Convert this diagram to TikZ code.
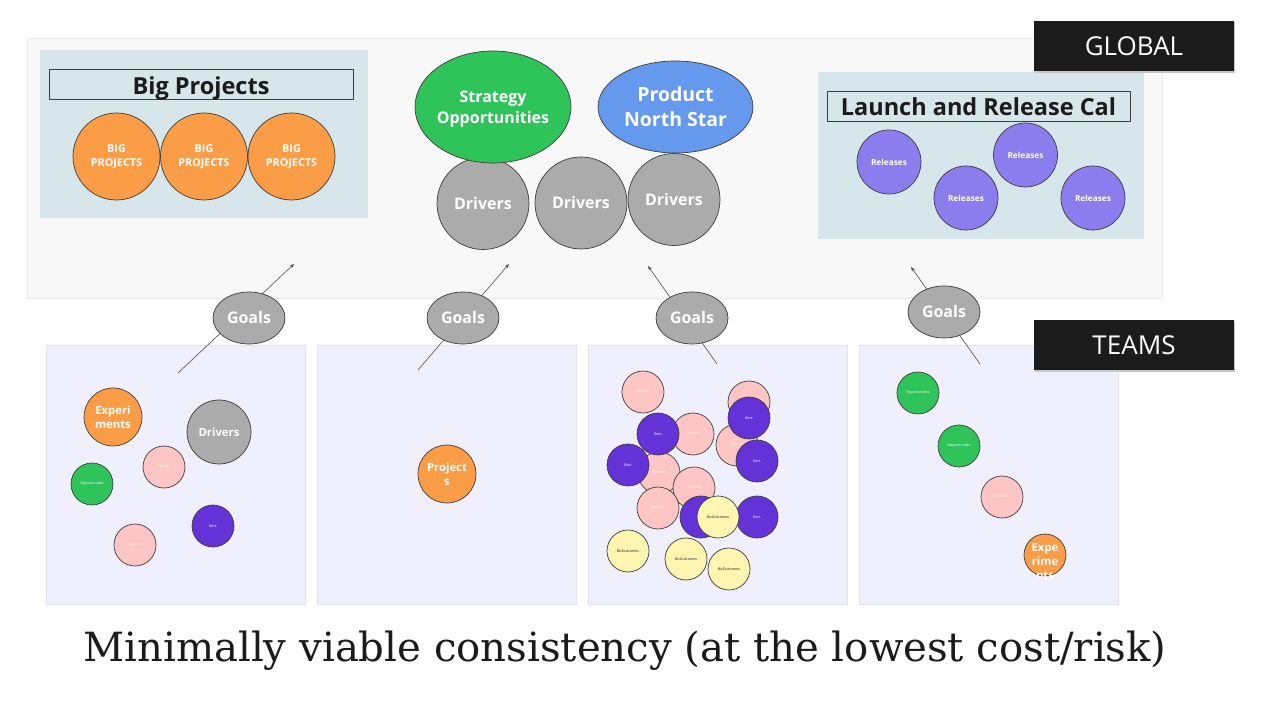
\documentclass[tikz,border=0pt]{standalone}
\usepackage{graphicx}
\usepackage{fontspec}
\setmainfont{Open Sans}
\newfontfamily\titlefont{DejaVu Serif}
\usetikzlibrary{arrows.meta,shapes.geometric}
\definecolor{globalbg}{HTML}{F8F8F8}
\definecolor{globaledge}{HTML}{EBEBEB}
\definecolor{panelbg}{HTML}{D6E6EA}
\definecolor{teambg}{HTML}{F0EFFD}
\definecolor{teamedge}{HTML}{E2E0F3}
\definecolor{orangec}{HTML}{FB9D47}
\definecolor{greenc}{HTML}{2EC45A}
\definecolor{bluec}{HTML}{6499EE}
\definecolor{grayc}{HTML}{ABABAB}
\definecolor{relc}{HTML}{8B7DEE}
\definecolor{betc}{HTML}{6532D8}
\definecolor{pinkc}{HTML}{FDC5C3}
\definecolor{yelc}{HTML}{FEF5B1}
\definecolor{inkc}{HTML}{1B1B1B}
\definecolor{arrc}{HTML}{505050}
\tikzset{
  bub/.style={circle,draw=inkc!85,line width=0.7pt,inner sep=0pt},
  oval/.style={ellipse,draw=inkc!85,line width=0.7pt,inner sep=0pt},
  conn/.style={draw=arrc,line width=0.6pt,-{Stealth[length=4.5pt,width=3.5pt]}},
  tinyw/.style={font=\fontsize{3.6}{4.5}\selectfont,text=white},
  tinyd/.style={font=\fontsize{3.6}{4.5}\selectfont,text=inkc},
  midw/.style={font=\bfseries\fontsize{11.3}{14}\selectfont,text=white},
  bigw/.style={font=\bfseries\fontsize{16}{20}\selectfont,text=white},
  relw/.style={font=\bfseries\fontsize{8.3}{10}\selectfont,text=white},
  bpw/.style={font=\bfseries\fontsize{10.8}{13.5}\selectfont,text=white},
  headtxt/.style={font=\bfseries\fontsize{23.5}{26}\selectfont,text=inkc},
  tagbox/.style={fill=inkc,minimum width=200pt,minimum height=50pt,inner sep=0pt,text=white,font=\fontsize{26}{30}\selectfont},
  teampanel/.style={fill=teambg,draw=teamedge,line width=0.6pt}
}
\newcommand\mybub[7]{%
  \node[bub,fill=#5,minimum size=#4pt] (#1) at (#2,#3) {};
  \node[align=center,#6] at (#1.center) {#7};}
\begin{document}
\begin{tikzpicture}[x=1pt,y=-1pt]
\useasboundingbox (0,0) rectangle (1262,708);
\fill[white] (0,0) rectangle (1262,708);
% global area
\draw[fill=globalbg,draw=globaledge,line width=0.8pt] (27,38) rectangle (1162,298);
% big projects panel
\fill[panelbg] (40,50) rectangle (368,218);
\node[draw=inkc!85,line width=0.7pt,minimum width=304pt,minimum height=30pt,inner sep=0pt] (bphead) at (201,84) {};
\node[headtxt,anchor=base] at ([yshift=-10.5pt]bphead.center) {Big Projects};
\mybub{bp1}{116.5}{156.5}{87}{orangec}{bpw}{BIG\\PROJECTS}
\mybub{bp2}{204}{156.5}{87}{orangec}{bpw}{BIG\\PROJECTS}
\mybub{bp3}{291.5}{156.5}{87}{orangec}{bpw}{BIG\\PROJECTS}
% launch panel
\fill[panelbg] (818,72) rectangle (1144,239);
\node[draw=inkc!85,line width=0.7pt,minimum width=303pt,minimum height=30pt,inner sep=0pt] (lrhead) at (978.5,106) {};
\node[headtxt,anchor=base] at ([yshift=-10pt]lrhead.center) {Launch and Release Cal};
\mybub{r1}{889}{162}{64}{relc}{relw}{Releases}
\mybub{r2}{966}{198}{64}{relc}{relw}{Releases}
\mybub{r3}{1025.5}{155}{64}{relc}{relw}{Releases}
\mybub{r4}{1093}{198}{64}{relc}{relw}{Releases}
% drivers
\mybub{d1}{483}{203.5}{92}{grayc}{bigw}{Drivers}
\mybub{d2}{581}{203}{92}{grayc}{bigw}{Drivers}
\mybub{d3}{674}{199.5}{92}{grayc}{bigw}{Drivers}
\node[oval,fill=greenc,minimum width=156pt,minimum height=112pt] (strat) at (493,107) {};
\node[align=center,font=\bfseries\fontsize{16}{21}\selectfont,text=white] at ([yshift=-2pt]strat.center) {Strategy\\Opportunities};
\node[oval,fill=bluec,minimum width=155pt,minimum height=92pt] (north) at (675.5,107) {};
\node[align=center,font=\bfseries\fontsize{19.5}{25}\selectfont,text=white] at (north.center) {Product\\North Star};
% team panels
\draw[teampanel] (46,345) rectangle (305,604);
\draw[teampanel] (317,345) rectangle (576,604);
\draw[teampanel] (588,345) rectangle (847,604);
\draw[teampanel] (859,345) rectangle (1118,604);
% arrows
\coordinate (a1s) at (178,373); \coordinate (a1e) at (294,264);
\coordinate (a2s) at (418,370); \coordinate (a2e) at (509,264);
\coordinate (a3s) at (717,364); \coordinate (a3e) at (648,266);
\coordinate (a4s) at (980,364); \coordinate (a4e) at (911,267);
\draw[conn] (a1s) -- (a1e);
\draw[conn] (a2s) -- (a2e);
\draw[conn] (a3s) -- (a3e);
\draw[conn] (a4s) -- (a4e);
% goals
\node[oval,fill=grayc,minimum width=72pt,minimum height=52pt,bigw] (g1) at (249,318) {Goals};
\node[oval,fill=grayc,minimum width=72pt,minimum height=52pt,bigw] (g2) at (463,318) {Goals};
\node[oval,fill=grayc,minimum width=72pt,minimum height=52pt,bigw] (g3) at (692,318) {Goals};
\node[oval,fill=grayc,minimum width=72pt,minimum height=52pt,bigw] (g4) at (944,312) {Goals};
% team 1
\mybub{t1e}{113}{417}{58}{orangec}{midw}{Experi\\ments}
\mybub{t1d}{219}{432}{64}{grayc}{midw}{Drivers}
\mybub{t1p}{164}{467}{42}{pinkc}{tinyw}{Options}
\mybub{t1o}{92}{484}{42}{greenc}{tinyw}{Opportunities}
\mybub{t1b}{213}{526}{42}{betc}{tinyw}{Bets}
\mybub{t1q}{135}{545}{42}{pinkc}{tinyw}{Options}
% team 2
\mybub{t2p}{447}{474}{58}{orangec}{midw}{Project\\s}
% team 3
\mybub{t3p1}{643}{392}{42}{pinkc}{tinyw}{Options}
\mybub{t3p2}{749}{402}{42}{pinkc}{tinyw}{Options}
\mybub{t3p3}{693}{434}{42}{pinkc}{tinyw}{Options}
\mybub{t3p4}{737}{445}{42}{pinkc}{tinyw}{Options}
\mybub{t3p5}{659}{473}{42}{pinkc}{tinyw}{Options}
\mybub{t3p6}{694}{488}{42}{pinkc}{tinyw}{Options}
\mybub{t3p7}{658}{508}{42}{pinkc}{tinyw}{Options}
\mybub{t3b1}{749}{418}{42}{betc}{tinyw}{Bets}
\mybub{t3b2}{658}{434}{42}{betc}{tinyw}{Bets}
\mybub{t3b3}{757}{461}{42}{betc}{tinyw}{Bets}
\mybub{t3b4}{628}{465}{42}{betc}{tinyw}{Bets}
\mybub{t3b5}{701}{517}{42}{betc}{tinyw}{Bets}
\mybub{t3b6}{757}{517}{42}{betc}{tinyw}{Bets}
\mybub{t3y1}{718}{517}{42}{yelc}{tinyd}{BizOutcomes}
\mybub{t3y2}{628}{551}{42}{yelc}{tinyd}{BizOutcomes}
\mybub{t3y3}{686}{559}{42}{yelc}{tinyd}{BizOutcomes}
\mybub{t3y4}{729}{569}{42}{yelc}{tinyd}{BizOutcomes}
% team 4
\mybub{t4o1}{918}{393}{42}{greenc}{tinyw}{Opportunities}
\mybub{t4o2}{959}{446}{42}{greenc}{tinyw}{Opportunities}
\mybub{t4p}{1002}{497}{42}{pinkc}{tinyw}{Options}
\node[bub,fill=orangec,minimum size=42pt] (t4e) at (1045,555) {};
\node[align=center,midw] at ([yshift=-7pt]t4e.center) {Expe\\rime\\nts};
% tags
\fill[gray!45] (1035,22) rectangle (1235,73);
\node[tagbox] (global) at (1134,46) {GLOBAL};
\fill[gray!45] (1035,322) rectangle (1235,372);
\node[tagbox] (teams) at (1134,345.5) {TEAMS};
% title
\node[text=inkc,inner sep=0pt] (title) at (625,651) {\resizebox{1083pt}{!}{\titlefont Minimally viable consistency (at the lowest cost/risk)}};
\end{tikzpicture}
\end{document}
